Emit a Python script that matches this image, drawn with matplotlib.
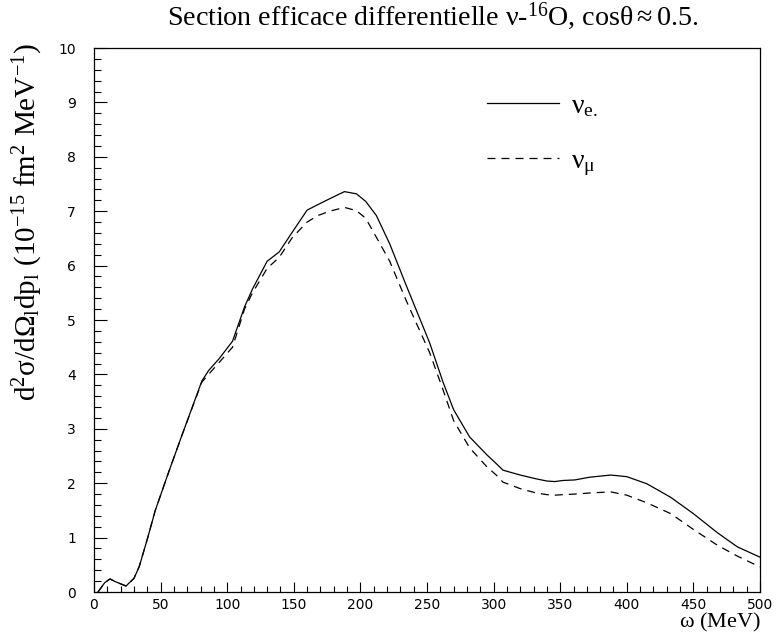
import matplotlib
matplotlib.use("Agg")
import matplotlib.pyplot as plt
from matplotlib.ticker import MultipleLocator

# omega (MeV) sampling points
omega = [3, 8, 12, 16, 24, 30, 34, 40, 46, 56, 66, 81, 86, 94, 104, 113, 119,
         130, 139, 149, 160, 168, 177, 188, 197, 204, 212, 222, 234, 240, 252,
         262, 270, 282, 295, 302, 307, 320, 332, 340, 346, 352, 361, 372, 388,
         400, 415, 433, 450, 468, 483, 500]

# nu_e cross section (solid)
sigma_e = [0.0, 0.17, 0.24, 0.19, 0.11, 0.25, 0.47, 0.97, 1.50, 2.20, 2.88,
           3.88, 4.07, 4.29, 4.61, 5.24, 5.57, 6.08, 6.25, 6.62, 7.02, 7.12,
           7.23, 7.36, 7.32, 7.18, 6.92, 6.40, 5.66, 5.30, 4.58, 3.86, 3.35,
           2.85, 2.52, 2.36, 2.24, 2.15, 2.08, 2.04, 2.03, 2.05, 2.06, 2.11,
           2.15, 2.12, 1.99, 1.74, 1.44, 1.09, 0.83, 0.64]

# nu_mu cross section (dashed)
sigma_mu = [0.0, 0.17, 0.24, 0.19, 0.11, 0.25, 0.47, 0.97, 1.50, 2.20, 2.88,
            3.86, 4.00, 4.22, 4.50, 5.20, 5.50, 5.95, 6.15, 6.52, 6.80, 6.92,
            7.00, 7.07, 7.01, 6.87, 6.52, 6.08, 5.38, 5.05, 4.40, 3.72, 3.15,
            2.65, 2.30, 2.15, 2.02, 1.90, 1.82, 1.79, 1.78, 1.79, 1.80, 1.82,
            1.84, 1.78, 1.64, 1.44, 1.15, 0.86, 0.66, 0.46]

plt.rcParams['mathtext.fontset'] = 'custom'
plt.rcParams['mathtext.rm'] = 'Liberation Serif'
plt.rcParams['mathtext.it'] = 'Liberation Serif'
plt.rcParams['mathtext.bf'] = 'Liberation Serif'

fig = plt.figure(figsize=(7.77, 6.34), dpi=100)
ax = fig.add_axes([94/777, 1 - 592/634, 666/777, 544/634])

ax.plot(omega, sigma_e, color='black', lw=0.9, label=r'$\nu_{e.}$')
ax.plot(omega, sigma_mu, color='black', lw=0.9, dashes=(6.4, 4.8),
        label=r'$\nu_{\mu}$')

ax.set_xlim(0, 500)
ax.set_ylim(0, 10)
ax.xaxis.set_major_locator(MultipleLocator(50))
ax.xaxis.set_minor_locator(MultipleLocator(10))
ax.yaxis.set_major_locator(MultipleLocator(1))
ax.yaxis.set_minor_locator(MultipleLocator(0.2))
ax.tick_params(which='both', direction='in', top=False, right=False,
               labelsize=10, width=0.8)
ax.tick_params(axis='x', which='major', length=7.5, pad=4)
ax.tick_params(axis='x', which='minor', length=4.3)
ax.tick_params(axis='y', which='major', length=9.5, pad=13)
ax.tick_params(axis='y', which='minor', length=5)
for s in ax.spines.values():
    s.set_linewidth(0.9)

leg = ax.legend(loc='upper left', bbox_to_anchor=(0.552, 0.962), frameon=False,
                handlelength=2.6, handletextpad=0.45, labelspacing=1.05,
                prop={'family': 'Liberation Serif', 'size': 20})

serif = 'Liberation Serif'
fig.text(433/777, 1 - 16/634,
         r'Section efficace differentielle $\nu$-$^{16}$O, cos$\theta$$\approx$0.5.',
         ha='center', va='center', fontsize=20.2, family=serif)
fig.text(28/777, 1 - 222/634,
         r'd$^{2}\sigma$/d$\Omega_{l}$dp$_{l}$ (10$^{-15}$ fm$^{2}$ MeV$^{-1}$)',
         ha='center', va='center', rotation=90, fontsize=21, family=serif)
fig.text(761/777, 0.5/634, r'$\omega$ (MeV)', ha='right', va='bottom',
         fontsize=16, family=serif)

fig.savefig('out.png', dpi=100)
